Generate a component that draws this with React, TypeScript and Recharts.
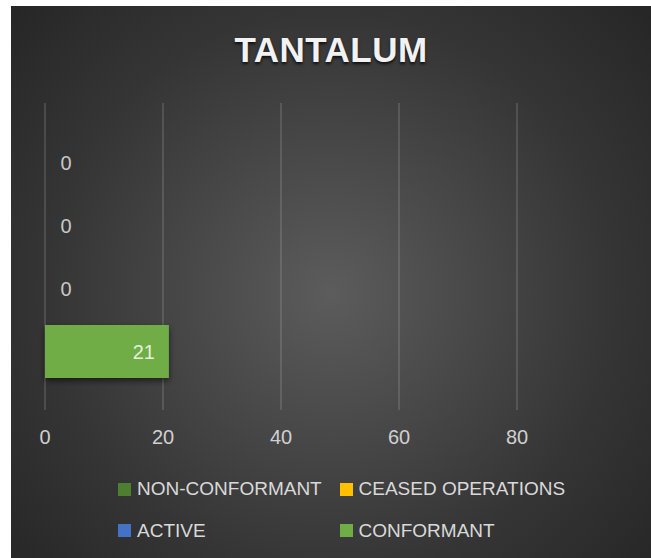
import React from 'react';
import { BarChart, Bar, XAxis, YAxis, CartesianGrid, Legend, LabelList } from 'recharts';

const categories = ['TANTALUM'];
const seriesNames = ['NON-CONFORMANT', 'CEASED OPERATIONS', 'ACTIVE', 'CONFORMANT'];
const seriesKeys = ['nonConformant', 'ceased', 'active', 'conformant'];
const seriesColors = ['#4E7F30', '#FFC000', '#4472C4', '#70AD47'];
const nonConformantValues = [0];
const ceasedValues = [0];
const activeValues = [0];
const conformantValues = [21];
const xTicks = [0, 20, 40, 60, 80];
const xDomain = [0, 100];

const seriesValues = [nonConformantValues, ceasedValues, activeValues, conformantValues];

const data = categories.map((c, i) => {
  const row: Record<string, any> = { name: c };
  seriesKeys.forEach((k, s) => {
    row[k] = seriesValues[s][i];
  });
  return row;
});

const FONT = '"Liberation Sans", Arial, sans-serif';

const makeLabel = (color: string) => (props: any) => {
  const { x, y, width, height, value } = props;
  if (x == null || y == null) return null;
  const cy = Number(y) + Number(height) / 2;
  const isZero = !value;
  const tx = isZero ? Number(x) + 21 : Number(x) + Number(width) - 14;
  return (
    <text
      x={tx}
      y={cy}
      dy="0.36em"
      textAnchor={isZero ? 'middle' : 'end'}
      fill={color}
      fontSize={20}
      fontFamily={FONT}
    >
      {value}
    </text>
  );
};

const LegendContent = (props: any) => {
  const payload = [...(props.payload || [])].sort(
    (a: any, b: any) => seriesNames.indexOf(a.value) - seriesNames.indexOf(b.value)
  );
  return (
    <div style={{ position: 'relative', width: 640, height: 90, fontFamily: FONT }}>
      {payload.map((p: any, i: number) => {
        const col = i % 2;
        const row = Math.floor(i / 2);
        return (
          <div
            key={i}
            style={{
              position: 'absolute',
              left: 107 + col * 221.5,
              top: 23 + row * 41.5 - 12,
              height: 24,
              display: 'flex',
              alignItems: 'center',
              whiteSpace: 'nowrap',
            }}
          >
            <span
              style={{
                display: 'inline-block',
                width: 13,
                height: 13,
                background: p.color,
                marginRight: 6,
              }}
            />
            <span style={{ color: '#d9d9d9', fontSize: 19, lineHeight: '24px' }}>{p.value}</span>
          </div>
        );
      })}
    </div>
  );
};

const gridGenerator = (props: any) => {
  const axis = props && props.xAxis;
  const sc = axis && axis.scale;
  if (typeof sc === 'function') {
    return xTicks.map((t) => sc(t));
  }
  if (sc && typeof sc.map === 'function') {
    return xTicks.map((t) => sc.map(t));
  }
  const off = props.offset || {};
  return xTicks.map(
    (t) => off.left + ((t - xDomain[0]) / (xDomain[1] - xDomain[0])) * off.width
  );
};

export default function App() {
  return (
    <div style={{ position: 'absolute', left: 0, top: 0, width: 651, height: 558, background: '#ffffff' }}>
      <div
        style={{
          position: 'absolute',
          left: 11,
          top: 6,
          width: 640,
          height: 552,
          background:
            'radial-gradient(circle farthest-corner at 50% 52%, #5c5c5c 0%, #4a4a4a 30%, #353535 65%, #262626 100%)',
          overflow: 'hidden',
        }}
      >
        <div
          style={{
            position: 'absolute',
            left: 0,
            width: 640,
            top: 24,
            textAlign: 'center',
            fontFamily: FONT,
            fontWeight: 'bold',
            fontSize: 35,
            lineHeight: '40px',
            letterSpacing: 0.5,
            color: '#f2f2f2',
            textShadow: '0 2px 3px rgba(0,0,0,0.75)',
          }}
        >
          {categories[0]}
        </div>
        <div style={{ position: 'absolute', left: 0, top: 0 }}>
          <BarChart
            width={640}
            height={552}
            data={data}
            layout="vertical"
            margin={{ top: 97, left: 34, right: 16, bottom: 18 }}
            barSize={53}
            barGap={10}
          >
            <defs>
              <filter id="barShadow" x="-20%" y="-20%" width="140%" height="160%">
                <feDropShadow dx="0" dy="3" stdDeviation="3" floodColor="#000000" floodOpacity="0.55" />
              </filter>
            </defs>
            <CartesianGrid
              horizontal={false}
              stroke="rgba(200,200,200,0.28)"
              strokeWidth={1.3}
              verticalCoordinatesGenerator={gridGenerator}
            />
            <XAxis
              type="number"
              domain={xDomain}
              ticks={xTicks}
              axisLine={false}
              tickLine={false}
              tickMargin={14}
              height={40}
              interval={0}
              tick={{ fill: '#d0d0d0', fontSize: 20, fontFamily: FONT }}
            />
            <YAxis type="category" dataKey="name" hide width={0} />
            <Legend
              verticalAlign="bottom"
              content={<LegendContent />}
              wrapperStyle={{ left: 0, top: 460, width: 640, height: 90, bottom: 'auto' }}
            />
            {seriesKeys.map((k, s) => (
              <Bar
                key={k}
                dataKey={k}
                name={seriesNames[s]}
                fill={seriesColors[s]}
                isAnimationActive={false}
                minPointSize={0.01}
                filter="url(#barShadow)"
              >
                <LabelList
                  dataKey={k}
                  content={makeLabel(k === 'conformant' ? '#e2f0d9' : '#c8c8c8')}
                />
              </Bar>
            ))}
          </BarChart>
        </div>
      </div>
    </div>
  );
}
